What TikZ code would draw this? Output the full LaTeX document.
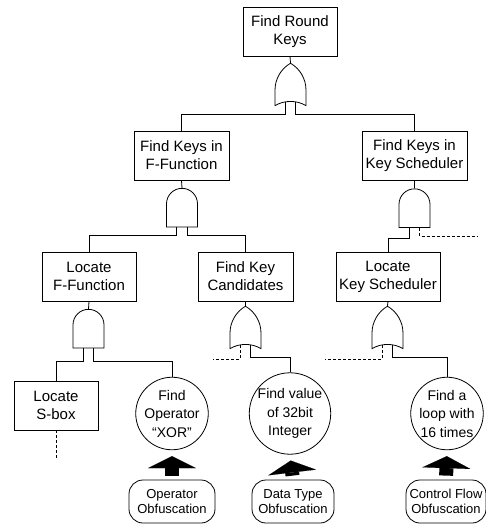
\documentclass[tikz,border=0pt]{standalone}
\usepackage{fontspec}
\setmainfont{Liberation Sans}
\usetikzlibrary{shapes.gates.logic.US,arrows.meta}

\begin{document}
\begin{tikzpicture}[x=1pt, y=-1pt, line width=0.8pt,
    event/.style={rectangle, draw, align=center, minimum height=49pt, inner sep=2pt, font=\fontsize{15}{18}\selectfont},
    basic/.style={circle, draw, align=center, minimum size=66pt, inner sep=0pt, font=\fontsize{14}{18.5}\selectfont},
    cause/.style={rectangle, draw, rounded corners=14pt, align=center, minimum height=43pt, inner sep=2pt, font=\fontsize{13}{15}\selectfont},
    orgate/.style={or gate US, draw, rotate=90, logic gate inputs=nn, minimum width=32pt, minimum height=31pt, inner sep=0pt},
    andgate/.style={and gate US, draw, rotate=90, logic gate inputs=nn, minimum width=32pt, minimum height=31pt, inner sep=0pt},
    undev/.style={dash pattern=on 3pt off 2pt},
    push/.style={line width=14pt, -{Triangle[length=12pt, width=48pt, line width=0.1pt]}, shorten >=6pt, shorten <=4pt}]

    \useasboundingbox (0,0) rectangle (486,525);

    % --- top event ---
    \node[event, minimum width=94pt] (round) at (290,31.5) {Find Round\\Keys};
    \node[orgate] (g0) at (290.5,87.5) {};

    % --- ROW 2 ---
    \node[event, minimum width=95pt] (kff) at (181.5,155.5) {Find Keys in\\F-Function};
    \node[andgate] (g1) at (182,209) {};
    \node[event, minimum width=105pt] (kks) at (414.5,155.5) {Find Keys in\\Key Scheduler};
    \node[andgate] (g2) at (414.5,209.5) {};

    % --- ROW 3 ---
    \node[event, minimum width=94pt] (lff) at (89,276.5) {Locate\\F-Function};
    \node[andgate] (g3) at (88.5,330) {};
    \node[event, minimum width=95pt] (cand) at (245.5,276.5) {Find Key\\Candidates};
    \node[orgate] (g4) at (245.5,330.5) {};
    \node[event, minimum width=104pt] (lks) at (388,276.5) {Locate\\Key Scheduler};
    \node[orgate] (g5) at (387.5,330.5) {};

    % --- leaves ---
    \node[event, minimum width=84pt] (sbox) at (56,405.5) {Locate\\S-box};
    \node[basic] (xor) at (172,413.5) {Find\\Operator\\“XOR”};
    \node[basic] (int) at (290,413.5) {Find value\\of 32bit\\Integer};
    \node[basic, minimum size=64pt] (loop) at (447,413.5) {Find a\\loop with\\16 times};

    % --- obfuscations ---
    \node[cause, minimum width=86pt] (opobf) at (172,501.5) {Operator\\Obfuscation};
    \node[cause, minimum width=82pt] (dtobf) at (293,501.5) {Data Type\\Obfuscation};
    \node[cause, minimum width=80pt] (cfobf) at (446,501.5) {Control Flow\\Obfuscation};

    % free ends of undeveloped branches
    \coordinate (more2) at (477,236);
    \coordinate (more3) at (56,459);
    \coordinate (more4) at (213,359);
    \coordinate (more5) at (325,359);

    % connectors
    \draw (round.south) -- (g0.output);
    \draw (g0.input 1) -- ++(0,12) -| (kff.north);
    \draw (g0.input 2) -- ++(0,12) -| (kks.north);

    \draw (kff.south) -- (g1.output);
    \draw (g1.input 1) -- ++(0,8) -| (lff.north);
    \draw (g1.input 2) -- ++(0,8) -| (cand.north);

    \draw (kks.south) -- (g2.output);
    \draw (g2.input 1) -- ++(0,10.5) -| (lks.north);
    \draw[undev] (g2.input 2) |- (more2);

    \draw (lff.south) -- (g3.output);
    \draw (g3.input 1) -- ++(0,13) -| (sbox.north);
    \draw (g3.input 2) -- ++(0,13) -| (xor.north);
    \draw[undev] (sbox.south) -- (more3);

    \draw (cand.south) -- (g4.output);
    \draw[undev] (g4.input 1) |- (more4);
    \draw (g4.input 2) -- ++(0,12.5) -| (int.north);

    \draw (lks.south) -- (g5.output);
    \draw[undev] (g5.input 1) |- (more5);
    \draw (g5.input 2) -- ++(0,12.5) -| (loop.north);

    % obfuscation arrows
    \draw[push] (opobf.north) -- (xor.south);
    \draw[push] (dtobf.north) -- (int.south);
    \draw[push] (cfobf.north) -- (loop.south);

\end{tikzpicture}
\end{document}
